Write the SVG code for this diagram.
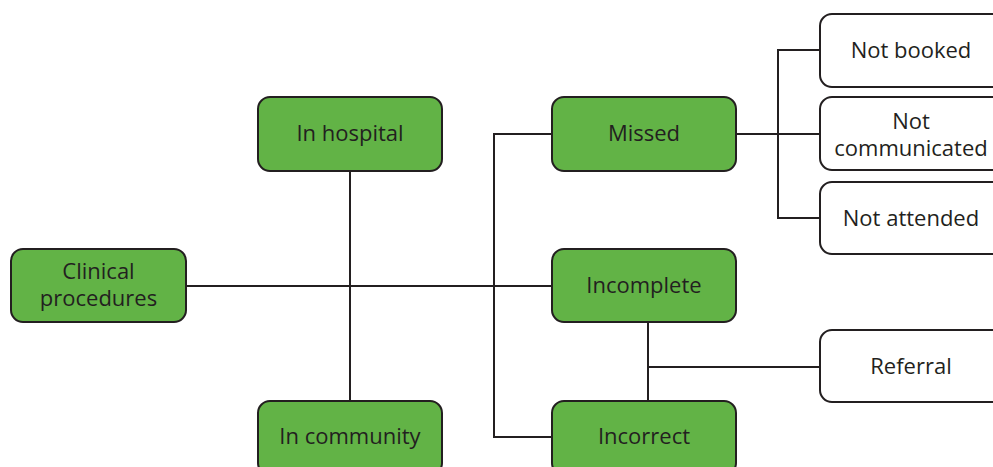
<svg xmlns="http://www.w3.org/2000/svg" width="993" height="467" viewBox="0 0 993 467">
  <style>
    .box { stroke: #231f20; stroke-width: 2; }
    .green { fill: #62b346; }
    .white { fill: #ffffff; }
    .lbl { font-family: "Open Sans", "Noto Sans", "Liberation Sans", sans-serif; font-size: 22px; fill: #231f20; text-anchor: middle; }
    .wire { fill: none; stroke: #231f20; stroke-width: 2; }
  </style>
  <rect width="993" height="467" fill="#ffffff"/>

  <!-- connectors -->
  <g id="connectors">
    <path class="wire" d="M186,286 H552"/>
    <path class="wire" d="M350,171 V401"/>
    <path class="wire" d="M552,134 H494 V437 H552"/>
    <path class="wire" d="M736,134 H820"/>
    <path class="wire" d="M820,50 H778 V218 H820"/>
    <path class="wire" d="M648,322 V401"/>
    <path class="wire" d="M648,367 H820"/>
  </g>

  <g id="clinical-procedures">
    <rect class="box green" x="11" y="249" width="175" height="73" rx="12"/>
    <text class="lbl" x="98.5" y="279">Clinical</text>
    <text class="lbl" x="98.5" y="306">procedures</text>
  </g>
  <g id="in-hospital">
    <rect class="box green" x="258" y="97" width="184" height="74" rx="12"/>
    <text class="lbl" x="350" y="141">In hospital</text>
  </g>
  <g id="in-community">
    <rect class="box green" x="258" y="401" width="184" height="74" rx="12"/>
    <text class="lbl" x="350" y="444">In community</text>
  </g>
  <g id="missed">
    <rect class="box green" x="552" y="97" width="184" height="74" rx="12"/>
    <text class="lbl" x="644" y="141">Missed</text>
  </g>
  <g id="incomplete">
    <rect class="box green" x="552" y="249" width="184" height="73" rx="12"/>
    <text class="lbl" x="644" y="293">Incomplete</text>
  </g>
  <g id="incorrect">
    <rect class="box green" x="552" y="401" width="184" height="74" rx="12"/>
    <text class="lbl" x="644" y="444">Incorrect</text>
  </g>
  <g id="not-booked">
    <rect class="box white" x="820" y="14" width="184" height="73" rx="12"/>
    <text class="lbl" x="911" y="58">Not booked</text>
  </g>
  <g id="not-communicated">
    <rect class="box white" x="820" y="97" width="184" height="73" rx="12"/>
    <text class="lbl" x="911" y="129">Not</text>
    <text class="lbl" x="911" y="156">communicated</text>
  </g>
  <g id="not-attended">
    <rect class="box white" x="820" y="182" width="184" height="72" rx="12"/>
    <text class="lbl" x="911" y="226">Not attended</text>
  </g>
  <g id="referral">
    <rect class="box white" x="820" y="330" width="184" height="72" rx="12"/>
    <text class="lbl" x="911" y="374">Referral</text>
  </g>
</svg>
